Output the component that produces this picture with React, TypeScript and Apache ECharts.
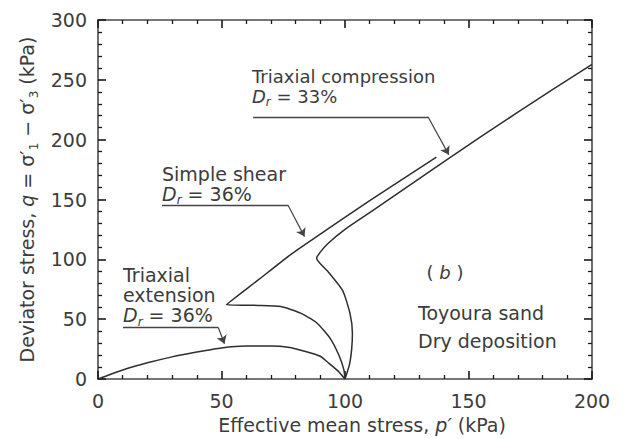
import React, { useEffect, useRef } from "react";
import * as echarts from "echarts";

// Triaxial compression (Dr = 33%)
const pTC = [100, 101.8, 102.7, 103, 102, 99, 93, 88.5, 90, 93, 100, 110, 141, 170, 200];
const qTC = [0, 12, 25, 38, 55, 74, 90, 101, 106, 113, 125, 139, 183, 223, 263];
// Simple shear (Dr = 36%)
const pSS = [100, 99.5, 97.5, 94, 88.5, 82, 74, 65, 52, 65, 78, 86, 110, 137];
const qSS = [0, 8, 20, 34, 47, 55, 60.5, 61.5, 62, 83, 104, 115.5, 149, 185.5];
// Triaxial extension (Dr = 36%)
const pTE = [0, 10, 20, 30, 40, 50, 60, 70, 77, 84, 90, 93, 97, 100];
const qTE = [0, 7.5, 13.5, 18.5, 22.5, 26, 27.5, 27.5, 26.5, 23, 19, 14, 7, 0];

// axis ticks
const xTicks = [0, 50, 100, 150, 200];
const yTicks = [0, 50, 100, 150, 200, 250, 300];

// annotation leader lines (data units)
const underlines = [
  [[62.8, 219.1], [133.6, 219.1]],
  [[25.9, 145.4], [76.9, 145.4]],
  [[10.1, 43], [48.7, 43]],
];
const arrows = [
  [[133.6, 219.1], [142, 187.5]],
  [[76.9, 145.4], [83.6, 119]],
  [[48.7, 43], [51.2, 29.5]],
];

const FONT = "DejaVu Sans";
const TXT = "#3c3c3c";
const LINE = "#2e2e2e";
const AX = "#4a4a4a";
const TICK = "#1a1a1a";

export default function App() {
  const ref = useRef<HTMLDivElement>(null);
  useEffect(() => {
    if (!ref.current) return;
    const chart = echarts.init(ref.current, undefined, { renderer: "svg" });
    const zip = (a: number[], b: number[]) => a.map((v, i) => [v, b[i]]);
    const xMin = xTicks[0];
    const xMax = xTicks[xTicks.length - 1];
    const yMin = yTicks[0];
    const yMax = yTicks[yTicks.length - 1];
    const rich = {
      i: { fontStyle: "italic" as const, fontFamily: FONT, fontSize: 19, color: TXT, lineHeight: 19 },
      n: { fontFamily: FONT, fontSize: 19, color: TXT, lineHeight: 19 },
      s: { fontFamily: FONT, fontSize: 12, color: TXT, height: 6, verticalAlign: "bottom" as const },
    };
    const drText = (x: number, y: number, val: string, fs = 19) => ({
      type: "text",
      x,
      y,
      style: {
        text: `{d|D}{r|r}{n| = ${val}}`,
        fontFamily: FONT,
        fontSize: fs,
        fill: TXT,
        verticalAlign: "middle",
        rich: {
          d: { fontStyle: "italic", fontFamily: FONT, fontSize: fs, fill: TXT, lineHeight: fs },
          r: { fontStyle: "italic", fontFamily: FONT, fontSize: 12, fill: TXT, height: 6, verticalAlign: "bottom" },
          n: { fontFamily: FONT, fontSize: fs, fill: TXT, lineHeight: fs },
        },
      },
    });
    const plainText = (x: number, y: number, t: string, fs = 19) => ({
      type: "text",
      x,
      y,
      style: { text: t, fontFamily: FONT, fontSize: fs, fill: TXT, verticalAlign: "middle", align: "left" },
    });
    const lineSeries = (name: string, p: number[], q: number[]) => ({
      name,
      type: "line",
      data: zip(p, q),
      showSymbol: false,
      symbol: "none",
      smooth: 0.2,
      lineStyle: { color: LINE, width: 1.5 },
    });
    const label = { fontFamily: FONT, fontSize: 19, color: TXT };
    const baseAxis = (min: number, max: number, position: string) => ({
      type: "value",
      min,
      max,
      interval: 50,
      position,
      axisLine: { show: true, onZero: false, lineStyle: { color: AX, width: 1.6 } },
      axisTick: { show: true, inside: true, length: 8, lineStyle: { color: TICK, width: 1.6 } },
      minorTick: { show: true, splitNumber: 5, length: 4, lineStyle: { color: TICK, width: 1.3 } },
      splitLine: { show: false },
      axisLabel: { show: false },
    });
    chart.setOption({
      animation: false,
      backgroundColor: "#fff",
      grid: { left: 98, right: 33, top: 20, bottom: 60, containLabel: false },
      xAxis: [
        {
          ...baseAxis(xMin, xMax, "bottom"),
          axisLabel: { ...label, show: true, margin: 12 },
          name: "{n|Effective mean stress, }{i|p′}{n| (kPa)}",
          nameLocation: "middle",
          nameGap: 36,
          nameTextStyle: { rich, padding: [0, 0, 0, 34] },
        },
        baseAxis(xMin, xMax, "top"),
      ],
      yAxis: [
        {
          ...baseAxis(yMin, yMax, "left"),
          axisLabel: { ...label, show: true, margin: 11 },
          name: "{n|Deviator stress, }{i|q}{n| = σ′}{s|1}{n| − σ′}{s|3}{n| (kPa)}",
          nameLocation: "middle",
          nameGap: 52,
          nameTextStyle: { rich },
        },
        baseAxis(yMin, yMax, "right"),
      ],
      series: [
        lineSeries("Triaxial compression", pTC, qTC),
        lineSeries("Simple shear", pSS, qSS),
        lineSeries("Triaxial extension", pTE, qTE),
        {
          type: "lines",
          coordinateSystem: "cartesian2d",
          data: underlines.map((c) => ({ coords: c })),
          symbol: ["none", "none"],
          lineStyle: { color: "#444", width: 1.3, opacity: 1 },
          silent: true,
        },
        {
          type: "lines",
          coordinateSystem: "cartesian2d",
          data: arrows.map((c) => ({ coords: c })),
          symbol: ["none", "arrow"],
          symbolSize: [0, 8],
          lineStyle: { color: "#444", width: 1.2, opacity: 1 },
          itemStyle: { color: "#222" },
          silent: true,
        },
      ],
      graphic: [
        plainText(252, 76, "Triaxial compression", 18),
        drText(252, 96, "33%", 18),
        plainText(162, 173.5, "Simple shear"),
        drText(162, 193.5, "36%"),
        plainText(123, 275, "Triaxial"),
        plainText(123, 295, "extension"),
        drText(123, 315, "36%"),
        {
          type: "text",
          x: 445,
          y: 272,
          style: {
            text: "( {b|b} )",
            fontFamily: FONT,
            fontSize: 18,
            fill: TXT,
            align: "center",
            verticalAlign: "middle",
            rich: { b: { fontStyle: "italic", fontFamily: FONT, fontSize: 18, fill: TXT } },
          },
        },
        plainText(418, 313, "Toyoura sand"),
        plainText(418, 341, "Dry deposition"),
      ],
    });
    return () => chart.dispose();
  }, []);
  return (
    <div
      ref={ref}
      style={{ position: "absolute", left: 0, top: 0, width: 625, height: 439, background: "#fff" }}
    />
  );
}
